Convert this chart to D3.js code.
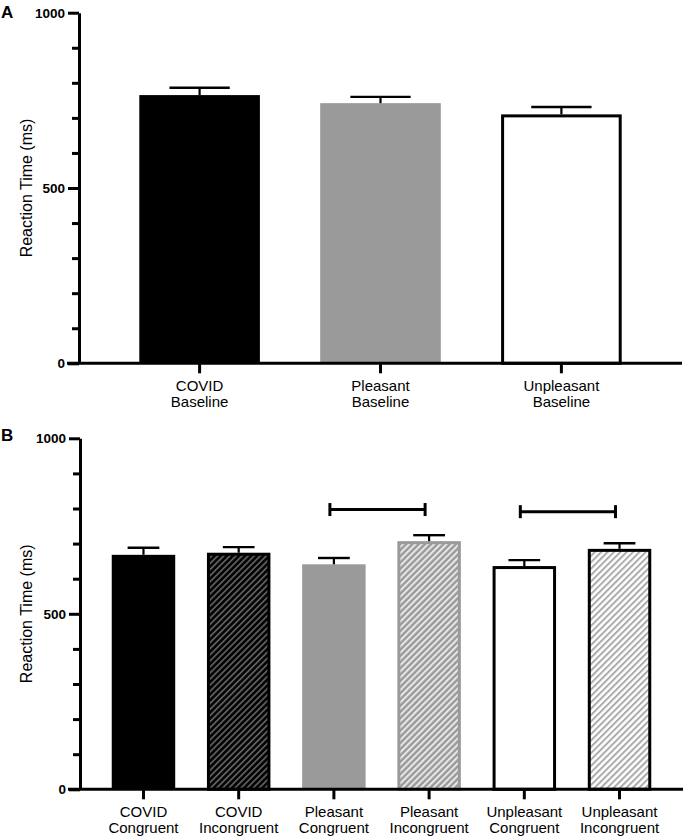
<!DOCTYPE html>
<html>
<head>
<meta charset="utf-8">
<script src="https://cdn.jsdelivr.net/npm/d3@7"></script>
<style>
  html, body { margin: 0; padding: 0; background: #fff; }
  svg { display: block; font-family: "Liberation Sans", Arial, sans-serif; }
</style>
</head>
<body>
<svg id="chart" width="685" height="839"></svg>
<script>
// ---------- data ----------
const categoriesA = ["COVID\nBaseline", "Pleasant\nBaseline", "Unpleasant\nBaseline"];
const meansA = [765, 742, 710];
const semA = [21, 18, 21];

const categoriesB = ["COVID\nCongruent", "COVID\nIncongruent", "Pleasant\nCongruent",
                     "Pleasant\nIncongruent", "Unpleasant\nCongruent", "Unpleasant\nIncongruent"];
const meansB = [668, 674, 641, 707, 636, 685];
const semB = [20, 16, 18, 17, 17, 16];

const bracketFrom = [2, 4];
const bracketTo = [3, 5];
const bracketY = [797, 791];

const yTickLabels = [0, 500, 1000];
const yMinorTicks = [100, 200, 300, 400, 600, 700, 800, 900];
const yTitle = "Reaction Time (ms)";

// ---------- styles ----------
const stylesA = [
  { fill: "#000", stroke: "none", sw: 0 },
  { fill: "#9a9a9a", stroke: "none", sw: 0 },
  { fill: "#fff", stroke: "#000", sw: 3 }
];
const stylesB = [
  { fill: "#000", stroke: "none", sw: 0 },
  { fill: "url(#hatchDark)", stroke: "#000", sw: 3 },
  { fill: "#9a9a9a", stroke: "none", sw: 0 },
  { fill: "url(#hatchGrey)", stroke: "#9a9a9a", sw: 3 },
  { fill: "#fff", stroke: "#000", sw: 3 },
  { fill: "url(#hatchLight)", stroke: "#000", sw: 3 }
];

const svg = d3.select("#chart");
const defs = svg.append("defs");
function hatch(id, bg, fg, period, sw) {
  const p = defs.append("pattern").attr("id", id)
    .attr("patternUnits", "userSpaceOnUse")
    .attr("width", period).attr("height", period)
    .attr("patternTransform", "rotate(45)");
  p.append("rect").attr("width", period).attr("height", period).attr("fill", bg);
  p.append("rect").attr("width", sw).attr("height", period).attr("fill", fg);
}
hatch("hatchDark", "#000", "#5e5e5e", 4.3, 1.8);
hatch("hatchGrey", "#9a9a9a", "#e8e8e8", 4.4, 2.0);
hatch("hatchLight", "#fff", "#ababab", 4.5, 2.0);

function panel(opts) {
  const { cats, means, sems, styles, xRange, yRange, letter, letterY } = opts;
  const x = d3.scaleBand().domain(cats).range(xRange).paddingInner(1/3).paddingOuter(1/3);
  const y = d3.scaleLinear().domain([0, 1000]).range(yRange);
  const g = svg.append("g");

  // bars
  const bw = x.bandwidth();
  g.selectAll("rect.bar").data(cats).enter().append("rect")
    .attr("class", "bar")
    .attr("x", (d, i) => x(d) + styles[i].sw / 2)
    .attr("width", (d, i) => bw - styles[i].sw)
    .attr("y", (d, i) => y(means[i]) + styles[i].sw / 2)
    .attr("height", (d, i) => y(0) - y(means[i]) - styles[i].sw / 2)
    .attr("fill", (d, i) => styles[i].fill)
    .attr("stroke", (d, i) => styles[i].stroke)
    .attr("stroke-width", (d, i) => styles[i].sw);

  // error bars
  const eb = g.selectAll("g.err").data(cats).enter().append("g").attr("class", "err");
  eb.append("line")
    .attr("x1", d => x(d) + bw / 2).attr("x2", d => x(d) + bw / 2)
    .attr("y1", (d, i) => y(means[i])).attr("y2", (d, i) => y(means[i] + sems[i]))
    .attr("stroke", "#000").attr("stroke-width", 2.2);
  eb.append("line")
    .attr("x1", d => x(d) + bw / 4).attr("x2", d => x(d) + 3 * bw / 4)
    .attr("y1", (d, i) => y(means[i] + sems[i])).attr("y2", (d, i) => y(means[i] + sems[i]))
    .attr("stroke", "#000").attr("stroke-width", 2.4);

  // y axis minor
  g.append("g").attr("transform", `translate(${xRange[0]},0)`)
    .call(d3.axisLeft(y).tickValues(yMinorTicks).tickSize(7).tickFormat(""))
    .call(a => a.select(".domain").remove())
    .call(a => a.selectAll("line").attr("stroke-width", 3));
  // y axis major
  g.append("g").attr("transform", `translate(${xRange[0]},0)`)
    .call(d3.axisLeft(y).tickValues(yTickLabels).tickFormat(d3.format("d"))
      .tickSize(11).tickSizeOuter(0).tickPadding(3))
    .call(a => a.select(".domain").attr("stroke-width", 3))
    .call(a => a.selectAll("line").attr("stroke-width", 3))
    .call(a => a.selectAll("text").attr("font-size", 13.5).attr("font-weight", "bold")
      .attr("font-family", "'Liberation Sans', Arial, sans-serif").attr("fill", "#000"));

  // x axis
  const xa = g.append("g").attr("transform", `translate(0,${y(0)})`)
    .call(d3.axisBottom(x).tickSize(10).tickSizeOuter(0))
    .call(a => a.select(".domain").attr("stroke-width", 3)
      .attr("d", `M${xRange[0] - 12},0H${xRange[1]}`))
    .call(a => a.selectAll("line").attr("stroke-width", 3));
  xa.selectAll(".tick text").each(function(d) {
    const t = d3.select(this).text(null).attr("dy", null).attr("y", null)
      .attr("font-size", 15).attr("fill", "#000")
      .attr("font-family", "'Liberation Sans', Arial, sans-serif");
    d.split("\n").forEach((line, k) => {
      t.append("tspan").attr("x", 0).attr("y", 28 + k * 16).text(line);
    });
  });

  // y title
  g.append("text")
    .attr("transform", `translate(32,${(yRange[0] + yRange[1]) / 2}) rotate(-90)`)
    .attr("text-anchor", "middle").attr("font-size", 16).attr("fill", "#000")
    .text(yTitle);

  // panel letter
  g.append("text").attr("x", 1).attr("y", letterY)
    .attr("font-size", 17).attr("font-weight", "bold").attr("fill", "#000").text(letter);

  return { x, y, g };
}

panel({ cats: categoriesA, means: meansA, sems: semA, styles: stylesA,
  xRange: [79, 682], yRange: [363.3, 12.7], letter: "A", letterY: 18 });

const pB = panel({ cats: categoriesB, means: meansB, sems: semB, styles: stylesB,
  xRange: [80, 683], yRange: [789.3, 438.3], letter: "B", letterY: 441 });

// significance brackets
const bw = pB.x.bandwidth();
bracketFrom.forEach((f, i) => {
  const x1 = pB.x(categoriesB[f]) + bw / 2 - 4;
  const x2 = pB.x(categoriesB[bracketTo[i]]) + bw / 2 - 4;
  const yy = pB.y(bracketY[i]);
  const b = pB.g.append("g");
  b.append("line").attr("x1", x1).attr("x2", x2).attr("y1", yy).attr("y2", yy)
    .attr("stroke", "#000").attr("stroke-width", 3);
  [x1, x2].forEach(xx => b.append("line").attr("x1", xx).attr("x2", xx)
    .attr("y1", yy - 6.5).attr("y2", yy + 6.5)
    .attr("stroke", "#000").attr("stroke-width", 3));
});
</script>
</body>
</html>
